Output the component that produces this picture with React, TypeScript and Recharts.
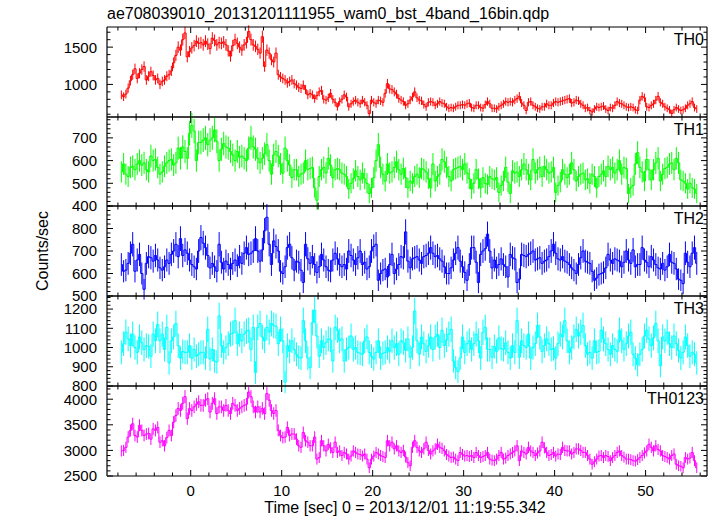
import { LineChart, Line, XAxis, YAxis, ErrorBar } from 'recharts';

// WAM BST light curves, 0.25 s bins, counts/sec
const T0 = -7.625;
const BIN = 0.25;

const TH0 = [
  860, 835, 870, 950, 1050, 1130, 1210, 1080, 1150, 1200, 1240, 1060,
  1110, 1170, 1120, 1060, 1080, 1000, 1040, 1060, 1110, 1130, 1180, 1290,
  1390, 1500, 1460, 1600, 1690, 1370, 1440, 1490, 1520, 1580, 1550, 1560,
  1530, 1580, 1540, 1480, 1620, 1590, 1530, 1560, 1550, 1570, 1530, 1450,
  1380, 1520, 1600, 1550, 1500, 1460, 1530, 1560, 1710, 1600, 1530, 1510,
  1470, 1420, 1640, 1240, 1460, 1420, 1330, 1300, 1420, 1130, 1100, 1080,
  1060, 1020, 1040, 1060, 1010, 990, 960, 945, 990, 930, 860, 880,
  860, 810, 850, 900, 920, 800, 790, 820, 880, 800, 760, 700,
  770, 800, 860, 830, 700, 740, 770, 790, 760, 740, 790, 760,
  720, 610, 790, 760, 740, 790, 780, 760, 880, 1010, 940, 930,
  900, 870, 810, 790, 770, 720, 740, 790, 830, 900, 820, 790,
  780, 730, 700, 760, 770, 760, 720, 740, 770, 750, 740, 700,
  680, 690, 680, 700, 720, 720, 730, 720, 740, 750, 690, 680,
  720, 720, 690, 680, 730, 770, 740, 680, 680, 670, 700, 720,
  740, 770, 760, 770, 760, 790, 810, 840, 750, 720, 650, 760,
  770, 720, 700, 680, 670, 700, 700, 740, 720, 720, 750, 770,
  760, 770, 780, 790, 800, 810, 750, 760, 790, 780, 740, 720,
  680, 690, 650, 630, 670, 700, 690, 700, 710, 670, 650, 690,
  680, 720, 770, 750, 740, 720, 700, 690, 700, 690, 660, 650,
  790, 840, 820, 700, 690, 720, 740, 790, 840, 760, 740, 700,
  680, 660, 610, 660, 690, 670, 650, 660, 680, 720, 740, 770,
  690, 670,
];

const TH1 = [
  550, 585, 540, 530, 570, 575, 560, 585, 600, 580, 590, 560,
  550, 620, 600, 605, 570, 540, 550, 575, 590, 600, 605, 580,
  590, 655, 610, 660, 640, 610, 720, 755, 730, 600, 680, 680,
  690, 700, 670, 690, 700, 735, 685, 600, 650, 675, 660, 655,
  640, 625, 600, 640, 615, 620, 610, 600, 655, 700, 660, 650,
  610, 590, 610, 630, 670, 600, 540, 625, 640, 620, 585, 545,
  655, 600, 580, 525, 560, 560, 530, 540, 545, 600, 560, 565,
  570, 480, 425, 530, 560, 570, 545, 610, 580, 525, 560, 565,
  560, 545, 540, 530, 475, 500, 520, 555, 530, 515, 545, 520,
  500, 455, 480, 525, 600, 670, 570, 540, 510, 585, 545, 550,
  570, 595, 560, 540, 565, 525, 480, 510, 500, 530, 540, 525,
  565, 560, 550, 520, 480, 585, 510, 530, 540, 605, 595, 570,
  530, 510, 560, 565, 570, 575, 560, 585, 545, 520, 475, 500,
  560, 520, 480, 525, 500, 495, 530, 520, 515, 525, 460, 490,
  510, 570, 505, 455, 555, 545, 550, 530, 560, 585, 560, 540,
  515, 605, 545, 560, 570, 530, 575, 560, 545, 550, 570, 460,
  490, 505, 560, 540, 525, 540, 590, 560, 510, 530, 540, 545,
  515, 520, 500, 540, 530, 480, 530, 540, 555, 530, 575, 560,
  570, 545, 560, 600, 540, 570, 565, 455, 480, 490, 585, 635,
  570, 550, 510, 605, 560, 515, 560, 590, 610, 510, 540, 565,
  570, 585, 590, 560, 610, 590, 515, 510, 500, 475, 500, 480,
  475, 455,
];

const TH2 = [
  640, 610, 615, 645, 690, 730, 610, 660, 685, 600, 530, 645,
  675, 670, 655, 680, 660, 625, 615, 630, 660, 645, 685, 700,
  730, 675, 755, 680, 705, 690, 660, 640, 630, 620, 700, 760,
  735, 715, 680, 625, 645, 630, 610, 730, 650, 620, 655, 640,
  620, 645, 660, 635, 675, 645, 690, 715, 685, 690, 700, 755,
  700, 655, 705, 790, 850, 730, 640, 745, 720, 700, 610, 600,
  630, 715, 730, 670, 615, 655, 650, 615, 560, 730, 665, 645,
  675, 640, 605, 630, 685, 660, 630, 615, 610, 660, 690, 665,
  640, 630, 640, 620, 700, 680, 660, 640, 670, 700, 640, 650,
  620, 630, 700, 720, 730, 570, 600, 615, 620, 585, 640, 685,
  600, 620, 640, 675, 670, 785, 655, 625, 665, 670, 675, 660,
  645, 675, 680, 690, 715, 690, 675, 680, 665, 655, 630, 600,
  600, 625, 660, 690, 715, 655, 630, 605, 570, 640, 715, 715,
  650, 560, 685, 700, 710, 775, 700, 625, 660, 625, 640, 665,
  640, 630, 585, 685, 670, 665, 560, 575, 685, 680, 675, 685,
  690, 700, 660, 665, 670, 645, 655, 660, 675, 700, 730, 690,
  665, 660, 675, 655, 650, 640, 625, 615, 600, 640, 670, 700,
  655, 650, 645, 610, 570, 580, 595, 600, 605, 625, 685, 660,
  645, 665, 660, 655, 630, 650, 700, 660, 645, 705, 630, 640,
  640, 715, 660, 650, 630, 675, 660, 640, 625, 620, 645, 615,
  630, 685, 650, 645, 620, 575, 570, 555, 690, 650, 630, 690,
  715, 645,
];

const TH3 = [
  975, 1020, 1080, 1045, 1010, 1070, 1000, 975, 1055, 1025, 990, 1010,
  1005, 955, 1070, 1035, 1120, 1035, 1070, 990, 1105, 920, 1035, 1055,
  1125, 1010, 945, 980, 975, 975, 1010, 945, 990, 955, 965, 975,
  975, 945, 1095, 940, 990, 930, 925, 1165, 1010, 975, 1000, 1020,
  1070, 1075, 1140, 1020, 1070, 1035, 1070, 1085, 1090, 990, 1105, 870,
  1105, 1125, 1055, 1035, 1105, 1080, 1125, 1115, 1110, 1020, 1095, 1035,
  820, 1010, 980, 1035, 990, 965, 950, 945, 1140, 1035, 945, 895,
  1130, 1195, 1060, 955, 1035, 1000, 1025, 1045, 1040, 930, 1105, 1090,
  1035, 1045, 930, 990, 1000, 1060, 990, 1000, 975, 970, 965, 1035,
  1055, 975, 955, 940, 975, 1035, 945, 970, 975, 1000, 980, 1035,
  1000, 1020, 965, 1035, 1025, 985, 1045, 950, 1000, 1190, 1035, 965,
  1055, 1020, 980, 1010, 1055, 990, 1055, 1070, 1000, 1090, 1010, 1040,
  1070, 1095, 930, 895, 875, 945, 1055, 975, 1020, 1035, 990, 1020,
  1070, 1035, 945, 1080, 1105, 990, 990, 950, 1005, 980, 1050, 995,
  990, 1025, 975, 945, 1010, 975, 1140, 950, 1035, 1010, 1000, 1070,
  945, 1000, 1020, 1115, 1055, 980, 1010, 1045, 1020, 990, 995, 945,
  1020, 1070, 1055, 1140, 1035, 975, 1000, 1055, 1095, 1060, 1080, 1115,
  1010, 965, 975, 945, 1035, 975, 980, 1090, 1045, 1020, 990, 965,
  1010, 990, 980, 1090, 1035, 990, 1020, 1060, 1080, 965, 945, 910,
  965, 990, 1060, 1090, 1045, 1010, 1050, 1125, 1035, 905, 1055, 1035,
  1080, 1020, 1000, 1060, 1020, 985, 945, 975, 1055, 1010, 955, 975,
  965, 920,
];

const TH0123 = [
  2990, 3000, 3060, 3260, 3390, 3520, 3290, 3260, 3490, 3390, 3290, 3320,
  3330, 3220, 3420, 3390, 3450, 3160, 3190, 3090, 3250, 3390, 3290, 3550,
  3680, 3820, 3780, 3920, 4050, 3620, 3820, 3780, 3850, 3900, 3950, 3880,
  3880, 3980, 4010, 3750, 3920, 4010, 3720, 3850, 3850, 3780, 3880, 3780,
  3720, 3920, 3880, 3780, 3820, 3850, 3880, 3900, 4140, 4050, 3850, 3750,
  3850, 3750, 3820, 3720, 4110, 3980, 3780, 3720, 3780, 3390, 3290, 3250,
  3260, 3450, 3290, 3320, 3320, 3220, 3090, 3060, 3350, 3190, 3160, 3090,
  3090, 3260, 2830, 2860, 3190, 3090, 2990, 3120, 3050, 2960, 3160, 2960,
  2990, 2900, 2960, 2930, 2830, 2890, 2990, 2960, 2930, 2920, 2890, 2930,
  2830, 2660, 2830, 2890, 2960, 2930, 2900, 2880, 2860, 3190, 3090, 3160,
  3030, 3090, 2990, 2960, 3000, 2870, 2760, 2700, 3060, 3190, 3060, 2990,
  2960, 3030, 3160, 3000, 2930, 2990, 3030, 3120, 3060, 3040, 2990, 2920,
  2890, 2860, 2870, 2830, 2800, 2960, 2920, 2890, 2900, 2880, 2900, 2860,
  2960, 2900, 2860, 2880, 2900, 2960, 2830, 2810, 2800, 2830, 2900, 2960,
  2830, 2850, 2900, 2930, 2960, 2990, 3090, 2800, 2990, 2960, 2930, 3060,
  2990, 2960, 2900, 2950, 2990, 3160, 3050, 2960, 2900, 2920, 2960, 2890,
  2930, 2920, 3060, 3000, 2990, 2990, 2930, 2960, 3030, 3030, 3000, 2960,
  2960, 2900, 2830, 2730, 2780, 2830, 2890, 2900, 2860, 2900, 2880, 2800,
  2860, 2900, 2960, 2990, 2900, 2870, 2830, 2830, 2820, 2800, 2790, 2820,
  2860, 2900, 2950, 2990, 3120, 3060, 2990, 3090, 3020, 2990, 2900, 2880,
  2860, 2830, 2900, 2930, 2730, 2700, 2690, 2660, 2860, 2830, 2850, 2960,
  2800, 2660,
];

const X_LABELS = [0, 10, 20, 30, 40, 50];
const XMIN = -9.2;
const XMAX = 56.75;

const FONT = '"Liberation Sans", Arial, Helvetica, sans-serif';
const TOPS = [27, 117, 206, 296, 386, 476];

const range = (a: number, b: number, s: number) => {
  const out: number[] = [];
  for (let v = a; v <= b + 1e-9; v += s) out.push(Math.round(v * 1000) / 1000);
  return out;
};

const X_TICKS = range(-8, 56, 2);

type Panel = {
  name: string;
  values: number[];
  color: string;
  domain: [number, number];
  major: number[];
  step: number;
};

const PANELS: Panel[] = [
  { name: 'TH0', values: TH0, color: '#ff0000', domain: [563, 1770], major: [1000, 1500], step: 100 },
  { name: 'TH1', values: TH1, color: '#00ff00', domain: [400, 792], major: [400, 500, 600, 700], step: 20 },
  { name: 'TH2', values: TH2, color: '#0000ff', domain: [500, 900], major: [500, 600, 700, 800], step: 20 },
  { name: 'TH3', values: TH3, color: '#00ffff', domain: [800, 1268], major: [800, 900, 1000, 1100, 1200], step: 20 },
  { name: 'TH0123', values: TH0123, color: '#ff00ff', domain: [2500, 4258], major: [2500, 3000, 3500, 4000], step: 100 },
];

const Tick = (props: any) => {
  const { x, y, payload, side, major, label } = props;
  const v = payload.value;
  const big = major.includes(v);
  const len = big ? 6 : 3.5;
  let mark;
  if (side === 'left') mark = <line x1={x} y1={y} x2={x + len} y2={y} />;
  else if (side === 'right') mark = <line x1={x} y1={y} x2={x - len} y2={y} />;
  else if (side === 'top') mark = <line x1={x} y1={y} x2={x} y2={y + len} />;
  else mark = <line x1={x} y1={y} x2={x} y2={y - len} />;
  let text = null;
  if (label && big) {
    text =
      side === 'left' ? (
        <text x={x - 10} y={y} dy="0.36em" textAnchor="end" stroke="none" fill="#000" fontSize={15} fontFamily={FONT}>
          {v}
        </text>
      ) : (
        <text x={x} y={y + 20} textAnchor="middle" stroke="none" fill="#000" fontSize={15} fontFamily={FONT}>
          {v}
        </text>
      );
  }
  return (
    <g stroke="#000" strokeWidth={1}>
      {mark}
      {text}
    </g>
  );
};

const frame = { stroke: '#000', strokeWidth: 1.2 };

const PanelChart = ({ p, top, h, last }: { p: Panel; top: number; h: number; last: boolean }) => {
  const rows = p.values.map((v, i) => ({ t: T0 + i * BIN, v, e: Math.sqrt(v * BIN) / BIN }));
  const yTicks = range(Math.ceil(p.domain[0] / p.step) * p.step, p.domain[1], p.step);
  const bottomH = last ? 40 : 10;
  return (
    <div style={{ position: 'absolute', left: 0, top: top - 10 }}>
      <LineChart width={717} height={h + 10 + bottomH} data={rows} margin={{ top: 0, right: 0, bottom: 0, left: 0 }}>
        <XAxis
          xAxisId="b"
          dataKey="t"
          type="number"
          orientation="bottom"
          domain={[XMIN, XMAX]}
          allowDataOverflow
          ticks={X_TICKS}
          interval={0}
          height={bottomH}
          tickSize={0}
          tickMargin={0}
          tickLine={false}
          axisLine={frame}
          tick={(tp: any) => <Tick {...tp} side="bottom" major={X_LABELS} label={last} />}
        />
        <XAxis
          xAxisId="t"
          dataKey="t"
          type="number"
          orientation="top"
          domain={[XMIN, XMAX]}
          allowDataOverflow
          ticks={X_TICKS}
          interval={0}
          height={10}
          tickSize={0}
          tickMargin={0}
          tickLine={false}
          axisLine={frame}
          tick={(tp: any) => <Tick {...tp} side="top" major={X_LABELS} />}
        />
        <YAxis
          yAxisId="l"
          type="number"
          domain={p.domain}
          allowDataOverflow
          ticks={yTicks}
          interval={0}
          width={107}
          tickSize={0}
          tickMargin={0}
          tickLine={false}
          axisLine={frame}
          tick={(tp: any) => <Tick {...tp} side="left" major={p.major} label />}
        />
        <YAxis
          yAxisId="r"
          type="number"
          orientation="right"
          domain={p.domain}
          allowDataOverflow
          ticks={yTicks}
          interval={0}
          width={10}
          tickSize={0}
          tickMargin={0}
          tickLine={false}
          axisLine={frame}
          tick={(tp: any) => <Tick {...tp} side="right" major={p.major} />}
        />
        <Line
          xAxisId="b"
          yAxisId="l"
          dataKey="v"
          type="step"
          stroke={p.color}
          strokeWidth={1}
          dot={false}
          activeDot={false}
          isAnimationActive={false}
        >
          <ErrorBar dataKey="e" width={0} stroke={p.color} strokeWidth={1} direction="y" isAnimationActive={false} />
        </Line>
      </LineChart>
    </div>
  );
};

export default function App() {
  return (
    <div style={{ position: 'absolute', left: 0, top: 0, width: 717, height: 516, background: '#fff', fontFamily: FONT }}>
      {PANELS.map((p, i) => (
        <PanelChart key={p.name} p={p} top={TOPS[i]} h={TOPS[i + 1] - TOPS[i]} last={i === PANELS.length - 1} />
      ))}
      <svg width={717} height={516} style={{ position: 'absolute', left: 0, top: 0, pointerEvents: 'none' }}>
        <text x={107} y={19} fontSize={16} fontFamily={FONT} fill="#000">
          ae708039010_20131201111955_wam0_bst_4band_16bin.qdp
        </text>
        <text x={42} y={251} fontSize={16} fontFamily={FONT} fill="#000" textAnchor="middle" dy="0.35em" transform="rotate(-90 42 251)">
          Counts/sec
        </text>
        <text x={405} y={513} fontSize={16} fontFamily={FONT} fill="#000" textAnchor="middle">
          Time [sec] 0 = 2013/12/01 11:19:55.342
        </text>
        {PANELS.map((p, i) => (
          <text key={p.name} x={704} y={TOPS[i] + 18} fontSize={16} fontFamily={FONT} fill="#000" textAnchor="end">
            {p.name}
          </text>
        ))}
      </svg>
    </div>
  );
}
